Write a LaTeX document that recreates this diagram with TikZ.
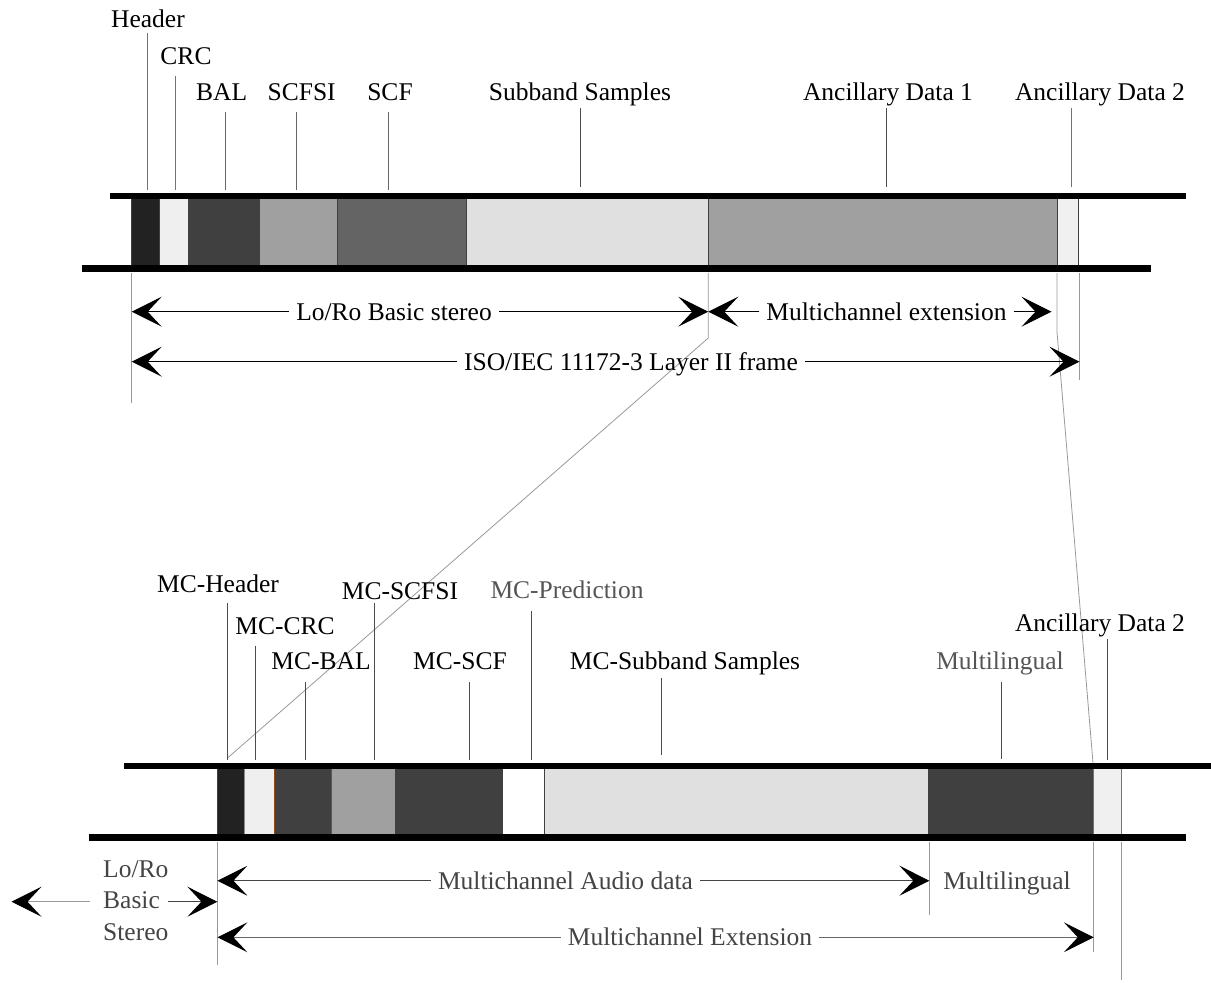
\documentclass[tikz,border=0pt]{standalone}
\usepackage{fontspec}
\setmainfont{Liberation Serif}
\usetikzlibrary{arrows.meta}
\definecolor{cA}{HTML}{222222}
\definecolor{cB}{HTML}{EFEFEF}
\definecolor{cC}{HTML}{404040}
\definecolor{cD}{HTML}{A0A0A0}
\definecolor{cE}{HTML}{646464}
\definecolor{cF}{HTML}{E0E0E0}
\definecolor{cG}{HTML}{F0F0F0}
\definecolor{txtgray}{HTML}{444444}
\definecolor{lblgray}{HTML}{555555}
\definecolor{brownedge}{HTML}{8A4A1A}
\begin{document}
\begin{tikzpicture}[x=1pt,y=-1pt,
  every node/.style={font=\fontsize{25.5}{30}\selectfont, inner sep=0pt},
  lbl/.style={anchor=base},
  dim/.style={anchor=center, text height=17pt, text depth=0pt, inner xsep=7pt},
  lead/.style={draw=black!70, line width=1pt},
  guide/.style={draw=black!40, line width=0.8pt},
  bar/.style={line width=6.5pt, draw=black},
  blk/.style={draw=black!75, line width=1pt},
  darr/.style={line width=1.2pt, -{Stealth[length=30pt,width=30pt,inset=14pt,color=black]}},
]
\useasboundingbox (0,0) rectangle (1211,983);

% ---------------- top frame ----------------
\filldraw[blk, fill=cA] (131.7,196) rectangle (159.3,268.5);
\filldraw[blk, fill=cB] (159.3,196) rectangle (188,268.5);
\filldraw[blk, fill=cC] (188,196) rectangle (259.3,268.5);
\filldraw[blk, fill=cD] (259.3,196) rectangle (337.7,268.5);
\filldraw[blk, fill=cE] (337.7,196) rectangle (466.7,268.5);
\filldraw[blk, fill=cF] (466.7,196) rectangle (708.3,268.5);
\filldraw[blk, fill=cD] (708.3,196) rectangle (1057,268.5);
\filldraw[blk, fill=cG] (1057,196) rectangle (1078.5,268.5);
\draw[bar] (110,196) -- (1186,196);
\draw[bar] (82,268.5) -- (1151,268.5);

% top labels
\node[lbl] (hdr) at (148,27) {Header};
\node[lbl] (crc) at (186,64) {CRC};
\node[lbl] (bal) at (221.7,100) {BAL};
\node[lbl] (scfsi) at (301.7,100) {SCFSI};
\node[lbl] (scf) at (390,100) {SCF};
\node[lbl] (sbs) at (580,100) {Subband Samples};
\node[lbl] (anc1) at (888,100) {Ancillary Data 1};
\node[lbl] (anc2) at (1100,100) {Ancillary Data 2};

\draw[lead, draw=black!55] (147.3,33) -- (147.3,190);
\draw[lead, draw=black!55] (175.7,76) -- (175.7,190);
\draw[lead, draw=black!60] (225,112) -- (225,190);
\draw[lead, draw=black!60] (296,112) -- (296,190);
\draw[lead, draw=black!60] (388.7,112) -- (388.7,190);
\draw[lead] (580,108) -- (580,187);
\draw[lead] (886.7,108) -- (886.7,187);
\draw[lead, draw=black!55] (1071.7,108) -- (1071.7,187);

% top guides
\draw[guide] (131.7,273) -- (131.7,403);
\draw[guide] (708.3,273) -- (708.3,338) -- (227.5,758);
\draw[guide] (1057,273) -- (1057,332) -- (1093,763);
\draw[guide] (1079,273) -- (1079,380);

% top dimension arrows
\coordinate (t0) at (131.7,311.7);
\coordinate (t1) at (708.3,311.7);
\coordinate (t2) at (1051.5,311.7);
\coordinate (t3) at (131.7,361.7);
\coordinate (t4) at (1079.5,361.7);
\node[dim] (loro) at (394,311.7) {Lo/Ro Basic stereo};
\node[dim] (mcext) at (886.5,311.7) {Multichannel extension};
\node[dim] (iso) at (631,361.7) {ISO/IEC 11172-3 Layer II frame};
\draw[darr] (loro.west) -- (t0);
\draw[darr] (loro.east) -- (t1);
\draw[darr] (mcext.west) -- (t1);
\draw[darr] (mcext.east) -- (t2);
\draw[darr] (iso.west) -- (t3);
\draw[darr] (iso.east) -- (t4);

% ---------------- bottom frame ----------------
\filldraw[blk, fill=cA] (217.9,766) rectangle (244.6,837.5);
\filldraw[blk, draw=black!45, fill=cB] (244.6,766) rectangle (274,837.5);
\filldraw[blk, fill=cC] (274,766) rectangle (331,837.5);
\filldraw[blk, fill=cD] (331,766) rectangle (395.4,837.5);
\draw[line width=1pt, brownedge] (274,766) -- (274,837.5);
\draw[line width=1pt, brownedge] (331,766) -- (331,837.5);
\filldraw[blk, fill=cC] (395.4,766) rectangle (502,837.5);
\filldraw[blk, fill=white] (502,766) rectangle (544,837.5);
\filldraw[blk, fill=cF] (544,766) rectangle (928.6,837.5);
\filldraw[blk, fill=cC] (928.6,766) rectangle (1093.5,837.5);
\filldraw[blk, draw=black!55, fill=cG] (1093.5,766) rectangle (1121,837.5);
\draw[bar] (124,766) -- (1211,766);
\draw[bar] (88.6,837.5) -- (1186,837.5);

% bottom labels
\node[lbl] (mchdr) at (218,592) {MC-Header};
\node[lbl] (mccrc) at (285,634) {MC-CRC};
\node[lbl] (mcbal) at (321,669) {MC-BAL};
\node[lbl] (mcscfsi) at (400,599) {MC-SCFSI};
\node[lbl] (mcscf) at (460,669) {MC-SCF};
\node[lbl, text=lblgray] (mcpred) at (567,598) {MC-Prediction};
\node[lbl] (mcsbs) at (685,669) {MC-Subband Samples};
\node[lbl, text=lblgray] (mling) at (1000,669) {Multilingual};
\node[lbl] (banc2) at (1100,631) {Ancillary Data 2};

\draw[lead] (227.5,603) -- (227.5,760);
\draw[lead] (255.7,646) -- (255.7,760);
\draw[lead] (305.7,682) -- (305.7,760);
\draw[lead] (374.3,603) -- (374.3,760);
\draw[lead] (469.3,682) -- (469.3,760);
\draw[lead] (531.4,611) -- (531.4,760);
\draw[lead] (661,678) -- (661,755);
\draw[lead] (1001,682) -- (1001,759);
\draw[lead] (1107.7,639) -- (1107.7,760);

% bottom guides
\draw[guide] (217.5,842) -- (217.5,965);
\draw[guide] (929,842) -- (929,915);
\draw[guide] (1093.5,842) -- (1093.5,952);
\draw[guide] (1121,842) -- (1121,980);

% bottom dimension arrows
\coordinate (b0) at (217.4,880.7);
\coordinate (b1) at (929.4,880.7);
\coordinate (b2) at (217.4,937.3);
\coordinate (b3) at (1093.8,937.3);
\node[dim, text=txtgray] (mad) at (565.5,880.7) {Multichannel Audio data};
\node[dim, text=txtgray] (mlarr) at (1007,880.7) {Multilingual};
\node[dim, text=txtgray] (mext) at (690,937.3) {Multichannel Extension};
\draw[darr, draw=txtgray] (mad.west) -- (b0);
\draw[darr, draw=txtgray] (mad.east) -- (b1);
\draw[darr, draw=black!60] (mext.west) -- (b2);
\draw[darr, draw=black!60] (mext.east) -- (b3);

% Lo/Ro Basic Stereo
\node[anchor=base west, text=txtgray] (lr1) at (103,877) {Lo/Ro};
\node[anchor=base west, text=txtgray] (lr2) at (103,908) {Basic};
\node[anchor=base west, text=txtgray] (lr3) at (103,940) {Stereo};
\coordinate (s0) at (168.4,901.7);
\coordinate (s1) at (217.4,901.7);
\coordinate (s2) at (90,901.7);
\coordinate (s3) at (11.5,901.7);
\draw[darr, draw=txtgray] (s0) -- (s1);
\draw[darr, draw=black!40, line width=1pt] (s2) -- (s3);
\end{tikzpicture}
\end{document}
